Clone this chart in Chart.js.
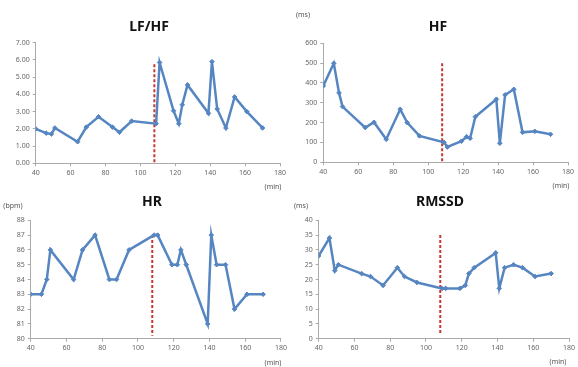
<!DOCTYPE html>
<html>
  <head>
    <meta charset="UTF-8">
    <title>HRV panels</title>
    <script src="https://cdn.jsdelivr.net/npm/chart.js"></script>
    <style>
      body { margin: 0; background: #fff; }
      #wrap { position: relative; width: 578px; height: 367px; }
      canvas { position: absolute; }
    </style>
  </head>
  <body>
    <div id="wrap">
      <canvas id="lfhf" style="left:0;top:0"></canvas>
      <canvas id="hf" style="left:289px;top:0"></canvas>
      <canvas id="hr" style="left:0;top:182px"></canvas>
      <canvas id="rmssd" style="left:289px;top:182px"></canvas>
    </div>
    <script>
      // time of each measurement (min)
      const times = [40, 46, 49, 51, 64, 69, 76, 84, 88, 95, 109, 111, 119, 122, 124, 127, 139, 141, 144, 149, 154, 161, 170];
      const lfhf  = [2.0, 1.75, 1.7, 2.05, 1.25, 2.1, 2.7, 2.1, 1.8, 2.45, 2.3, 5.85, 3.05, 2.3, 3.4, 4.55, 2.9, 5.9, 3.15, 2.05, 3.85, 3.0, 2.05];
      const hf    = [385, 499, 350, 281, 175, 202, 116, 267, 200, 133, 101, 77, 106, 129, 121, 230, 318, 96, 340, 368, 151, 156, 141];
      const hr    = [83, 83, 84, 86, 84, 86, 87, 84, 84, 86, 87, 87, 85, 85, 86, 85, 81, 87, 85, 85, 82, 83, 83];
      const rmssd = [28, 34, 23, 25, 22, 21, 18, 24, 21, 19, 17, 17, 17, 18, 22, 24, 29, 17, 24, 25, 24, 21, 22];
      const markerTime = 108;

      const blue = '#5686c2';
      const tickFont = { family: 'Noto Sans', size: 7 };

      const textPlugin = {
        id: 'panelText',
        afterDraw(chart, args, opts) {
          const ctx = chart.ctx;
          (opts.items || []).forEach(it => {
            ctx.save();
            ctx.font = it.font || '7px "Noto Sans"';
            ctx.fillStyle = it.color || '#555';
            ctx.textAlign = 'center';
            ctx.textBaseline = 'middle';
            ctx.fillText(it.text, it.x, it.y);
            ctx.restore();
          });
        }
      };

      function panel(id, p) {
        const canvas = document.getElementById(id);
        canvas.width = p.w; canvas.height = p.h;
        canvas.style.width = p.w + 'px'; canvas.style.height = p.h + 'px';
        const pts = times.map((t, i) => ({ x: t, y: p.values[i] }));
        const items = [{ text: p.title, x: p.titleX, y: p.titleY, font: 'bold 14px "Noto Sans"', color: '#111' }]
          .concat(p.units);
        new Chart(canvas, {
          type: 'line',
          data: {
            datasets: [{
              data: pts,
              borderColor: blue,
              backgroundColor: blue,
              borderWidth: 2.5,
              pointStyle: 'rectRot',
              pointRadius: 2.3,
              pointBorderWidth: 1,
              tension: 0
            }, {
              data: [{ x: markerTime, y: p.mark[0] }, { x: markerTime, y: p.mark[1] }],
              borderColor: '#c8372f',
              borderWidth: 2,
              borderDash: [3, 2],
              pointRadius: 0
            }]
          },
          options: {
            responsive: false,
            animation: false,
            layout: { padding: { left: 0, top: p.area.t, right: p.w - p.area.r, bottom: 0 } },
            plugins: {
              legend: { display: false },
              tooltip: { enabled: false },
              panelText: { items: items }
            },
            scales: {
              x: {
                type: 'linear', min: 40, max: 180,
                ticks: { stepSize: 20, font: tickFont, color: '#666', padding: 2, maxRotation: 0 },
                grid: { drawOnChartArea: false, tickLength: 3, color: '#aaa' },
                border: { color: '#aaa' },
                afterFit: s => { s.height = p.h - p.area.b; }
              },
              y: {
                min: p.min, max: p.max,
                ticks: { stepSize: p.step, font: tickFont, color: '#666', padding: 3,
                         callback: p.fmt || (v => v) },
                grid: { drawOnChartArea: false, tickLength: 3, color: '#aaa' },
                border: { color: '#aaa' },
                afterFit: s => { s.width = p.area.l; }
              }
            }
          },
          plugins: [textPlugin]
        });
      }

      panel('lfhf', {
        w: 289, h: 192, area: { l: 35.7, t: 42.7, r: 280, b: 163.3 },
        values: lfhf, min: 0, max: 7, step: 1, fmt: v => v.toFixed(2),
        mark: [5.75, 0], title: 'LF/HF', titleX: 149, titleY: 27,
        units: [{ text: '(min)', x: 273, y: 187 }]
      });
      panel('hf', {
        w: 289, h: 192, area: { l: 34.3, t: 43.3, r: 279, b: 162.3 },
        values: hf, min: 0, max: 600, step: 100,
        mark: [500, 0], title: 'HF', titleX: 149, titleY: 27,
        units: [{ text: '(ms)', x: 14, y: 15 }, { text: '(min)', x: 272, y: 186 }]
      });
      panel('hr', {
        w: 289, h: 185, area: { l: 30.7, t: 38.3, r: 281, b: 156.7 },
        values: hr, min: 80, max: 88, step: 1,
        mark: [87, 80.2], title: 'HR', titleX: 152, titleY: 20,
        units: [{ text: '(bpm)', x: 13, y: 24 }, { text: '(min)', x: 273, y: 181 }]
      });
      panel('rmssd', {
        w: 289, h: 185, area: { l: 29.7, t: 38.3, r: 280, b: 156.7 },
        values: rmssd, min: 0, max: 40, step: 5,
        mark: [35, 1.7], title: 'RMSSD', titleX: 151, titleY: 20,
        units: [{ text: '(ms)', x: 12, y: 24 }, { text: '(min)', x: 269, y: 180 }]
      });
    </script>
  </body>
</html>
